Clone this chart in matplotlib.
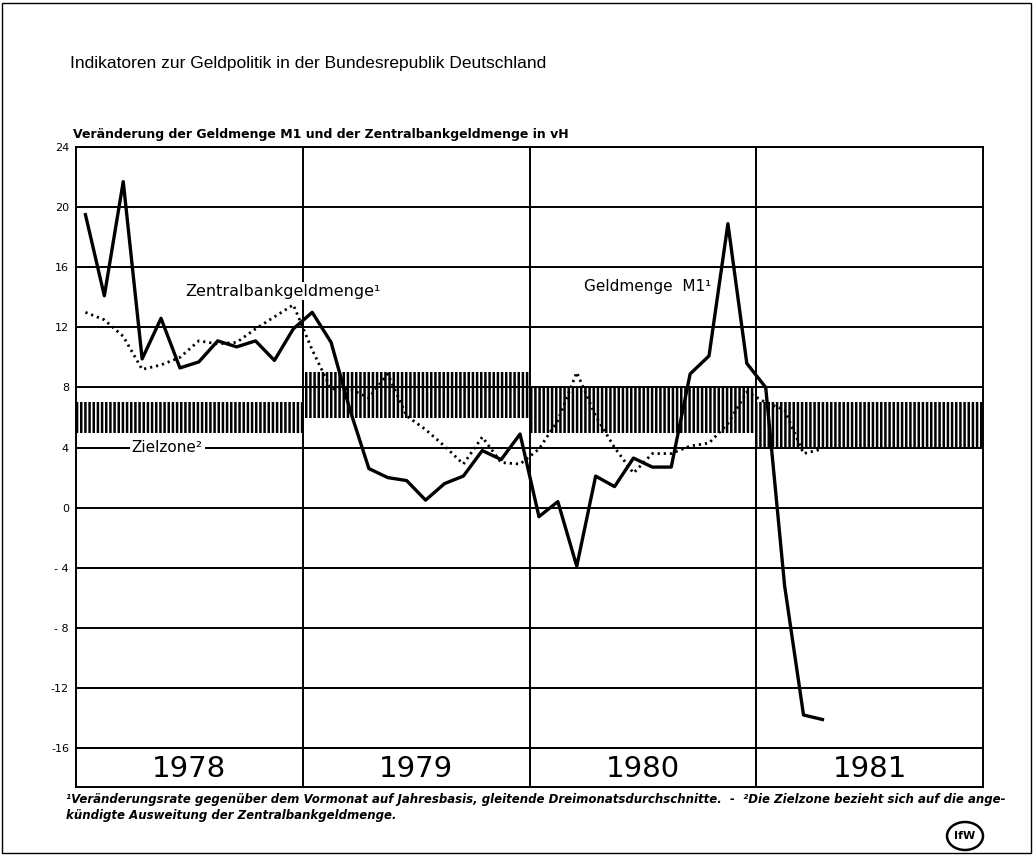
"""
Indikatoren zur Geldpolitik: Geldmenge M1 und Zentralbankgeldmenge
1978-1981, Veränderung in vH, mit Zielzone der Bundesbank.
"""

import matplotlib.pyplot as plt
import numpy as np
from matplotlib.patches import Ellipse, Rectangle

# Data
# -----------------------------------------------------------------------------

years = ['1978', '1979', '1980', '1981']

# Geldmenge M1, monthly from Jan 1978 to Apr 1981
m1 = [19.5, 14.1, 21.7, 9.9, 12.6, 9.3, 9.7, 11.1, 10.7, 11.1, 9.8, 11.9,
      13.0, 11.0, 6.5, 2.6, 2.0, 1.8, 0.5, 1.6, 2.1, 3.8, 3.2, 4.9,
      -0.6, 0.4, -3.9, 2.1, 1.4, 3.3, 2.7, 2.7, 8.9, 10.1, 18.9, 9.6,
      8.0, -5.2, -13.8, -14.1]

# Zentralbankgeldmenge, monthly from Jan 1978 to Apr 1981
zbg = [13.0, 12.5, 11.4, 9.2, 9.5, 10.0, 11.1, 10.9, 11.0, 11.9, 12.7, 13.5,
       10.5, 7.9, 7.9, 7.3, 8.9, 6.1, 5.2, 4.1, 2.9, 4.7, 3.0, 2.9,
       3.9, 5.8, 9.0, 6.1, 4.0, 2.3, 3.6, 3.6, 4.1, 4.3, 5.6, 7.7,
       7.0, 6.5, 3.6, 3.9]

# Zielzone per year
zone_lo = [5, 6, 5, 4]
zone_hi = [7, 9, 8, 7]

yticks = [-16, -12, -8, -4, 0, 4, 8, 12, 16, 20, 24]
ylabels = ['-16', '-12', '- 8', '- 4', '0', '4', '8', '12', '16', '20', '24']

# Plot
# -----------------------------------------------------------------------------

plt.rcParams['hatch.linewidth'] = 1.8

fig = plt.figure(figsize=(10.34, 8.55), dpi=100)
ax = fig.add_axes([0.0735, 0.1251, 0.8772, 0.7029])
band = fig.add_axes([0.0735, 0.0795, 0.8772, 0.0456])

x = np.arange(len(m1)) + 0.5

for i in range(len(years)):
    ax.fill_between([12 * i, 12 * (i + 1)], zone_lo[i], zone_hi[i],
                    facecolor='white', edgecolor='black', hatch='||||',
                    linewidth=0, zorder=1)

ax.plot(x, zbg, color='black', lw=2.0, ls=(0, (0.8, 1.4)), zorder=3)
ax.plot(x, m1, color='black', lw=2.4, zorder=4)

ax.set_xlim(0, 48)
ax.set_ylim(-16, 24)
ax.set_xticks([12, 24, 36])
ax.set_xticklabels([])
ax.set_yticks(yticks)
ax.set_yticklabels(ylabels, fontsize=8)
ax.tick_params(length=0, pad=5)
ax.grid(color='black', lw=1.4)
for s in ax.spines.values():
    s.set_linewidth(1.4)

ax.text(2.95, 4, 'Zielzone²', fontsize=11, va='center', ha='left',
        bbox=dict(facecolor='white', edgecolor='none', pad=1.5), zorder=5)
ax.text(5.8, 14.4, 'Zentralbankgeldmenge¹', fontsize=11.5, va='center',
        bbox=dict(facecolor='white', edgecolor='none', pad=1), zorder=5)
ax.text(26.9, 14.7, 'Geldmenge  M1¹', fontsize=11, va='center',
        bbox=dict(facecolor='white', edgecolor='none', pad=1), zorder=5)

band.set_xlim(0, 48)
band.set_ylim(0, 1)
band.set_xticks([12, 24, 36])
band.set_xticklabels([])
band.set_yticks([])
band.tick_params(length=0)
band.grid(axis='x', color='black', lw=1.4)
for s in band.spines.values():
    s.set_linewidth(1.4)
for i, yr in enumerate(years):
    band.text(12 * i + 6, 0.47, yr, fontsize=21, ha='center', va='center')

fig.text(0.0677, 0.9205, 'Indikatoren zur Geldpolitik in der Bundesrepublik Deutschland',
         fontsize=12.5, family='Liberation Sans', va='baseline')
fig.text(0.0706, 0.8386, 'Veränderung der Geldmenge M1 und der Zentralbankgeldmenge in vH',
         fontsize=9, fontweight='bold', va='baseline')
fig.text(0.064, 0.061, '¹Veränderungsrate gegenüber dem Vormonat auf Jahresbasis, '
         'gleitende Dreimonatsdurchschnitte.  -  ²Die Zielzone bezieht sich auf die ange-',
         fontsize=8.5, fontweight='bold', style='italic', va='baseline')
fig.text(0.064, 0.042, 'kündigte Ausweitung der Zentralbankgeldmenge.',
         fontsize=8.5, fontweight='bold', style='italic', va='baseline')

# logo
fig.patches.append(Ellipse((965 / 1034, 1 - 836 / 855), 36 / 1034, 28 / 855,
                           transform=fig.transFigure, fill=False, lw=1.8))
fig.text(965 / 1034, 1 - 836 / 855, 'IfW', fontsize=8, fontweight='bold',
         ha='center', va='center')

# page border
fig.patches.append(Rectangle((0.002, 0.002), 0.995, 0.995,
                             transform=fig.transFigure, fill=False, lw=1))

fig.savefig('out.png', dpi=100)
